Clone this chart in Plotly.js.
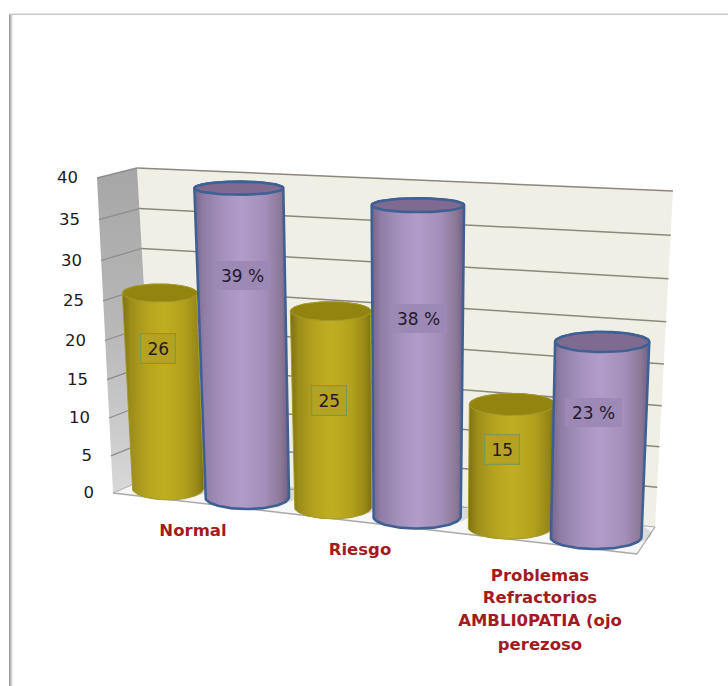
<!DOCTYPE html>
<html>
<head>
<meta charset="utf-8">
<script src="https://cdn.plot.ly/plotly-3.0.1.min.js"></script>
<style>html,body{margin:0;padding:0;background:#fff}#chart{width:728px;height:686px}</style>
</head>
<body>
<div id="chart"></div>
<script>
// Chart values
const categories = ['Normal', 'Riesgo', 'Problemas\nRefractorios\nAMBLI0PATIA (ojo\nperezoso'];
const yellowValues = [26, 25, 15];
const purpleValues = [39, 38, 23];
const yellowLabels = ['26', '25', '15'];
const purpleLabels = ['39 %', '38 %', '23 %'];
const tickLabels = [0, 5, 10, 15, 20, 25, 30, 35, 40];

// Box geometry of the 3-D plot, in page units
const BOX = {
  frontTopLeft: [97, 178], frontBottomLeft: [113, 493],
  backTopLeft: [137, 168], backBottomLeft: [155, 475],
  backTopRight: [673, 191], backBottomRight: [655, 527],
  frontBottomRight: [637, 554]
};
const yellowBaseX = [168, 333, 510];
const purpleBaseX = [247, 417, 596];
const categoryX = [[193], [360], [540, 540, 540, 540]];
const categoryY = [[532], [551], [577, 599, 622, 646]];
const yellowBoxes = [[157.5, 348], [328.5, 400], [501.5, 449]];
const purpleBoxes = [[242, 275], [418, 318], [593.5, 412]];

const YELLOW = {
  edge: [[0, '#7d700f'], [0.1, '#9c8d1a'], [0.3, '#b5a31f'], [0.5, '#c0ae22'], [0.75, '#b3a11d'], [0.92, '#978716'], [1, '#7b6e11']],
  top: '#93830f', rim: '#a39a2c', rimWidth: 1, k0: 7.5, kSlope: 0.002, kFrom: 168, r0: 36, rSlope: 0.0176
};
const PURPLE = {
  edge: [[0, '#75648c'], [0.1, '#8f7da6'], [0.3, '#a591bd'], [0.5, '#b29dca'], [0.75, '#a28eb8'], [0.92, '#8a7796'], [1, '#705f86']],
  top: '#7f6a92', rim: '#3f6093', rimWidth: 2.6, k0: 7.92, kSlope: 0.0016, kFrom: 247, r0: 42, rSlope: 0.01
};

const lerp = (a, b, t) => a + (b - a) * t;

// Walls bow slightly with perspective; v is a value on the 0-40 scale
function wallPoint(top, bottom, v) {
  const t = 1 - v / 40;
  return [lerp(top[0], bottom[0], t), lerp(top[1], bottom[1], t) + 20 * t * (1 - t)];
}

const traces = [];
function poly(pts, opts) {
  traces.push(Object.assign({
    type: 'scatter', mode: 'lines', x: pts.map(p => p[0]), y: pts.map(p => p[1]),
    fill: 'toself', line: { width: 0 }, hoverinfo: 'skip', showlegend: false
  }, opts));
}
function segment(a, b, color, width) {
  traces.push({
    type: 'scatter', mode: 'lines', x: [a[0], b[0]], y: [a[1], b[1]],
    line: { color, width }, hoverinfo: 'skip', showlegend: false
  });
}

// Walls and floor
poly([BOX.backTopLeft, BOX.backTopRight, BOX.backBottomRight, BOX.backBottomLeft, BOX.backTopLeft],
     { fillcolor: '#f0efe5' });
// The y axis runs downwards, so the gradient stops are listed bottom first
poly([BOX.frontTopLeft, BOX.backTopLeft, BOX.backBottomLeft, BOX.frontBottomLeft, BOX.frontTopLeft], {
  fillcolor: '#bbbbbb',
  fillgradient: { type: 'vertical', colorscale: [[0, '#d8d8d8'], [0.5, '#b8b8b8'], [1, '#a6a6a6']] }
});
poly([BOX.frontBottomLeft, BOX.backBottomLeft, BOX.backBottomRight, BOX.frontBottomRight, BOX.frontBottomLeft],
     { fillcolor: '#f7f7f7' });

// Gridlines on both walls
tickLabels.forEach(v => {
  const outer = wallPoint(BOX.frontTopLeft, BOX.frontBottomLeft, v);
  const inner = wallPoint(BOX.backTopLeft, BOX.backBottomLeft, v);
  const right = wallPoint(BOX.backTopRight, BOX.backBottomRight, v);
  segment(outer, inner, v === 0 ? '#b5b5b5' : '#8c8c8c', 1.3);
  if (v > 0) segment(inner, right, '#8b877c', 1.5);
});
segment(BOX.frontBottomLeft, BOX.frontBottomRight, '#a8a8a8', 1.5);
segment(BOX.frontBottomRight, BOX.backBottomRight, '#a8a8a8', 1.3);
segment(BOX.backBottomLeft, BOX.backBottomRight, '#b0aea6', 1.2);

// Ellipses flatten as they rise towards eye level
const ellipseRy = y => 12 - 5.5 * Math.pow(Math.max(0, 500 - y) / 313, 1.5);
const baseY = x => 488 + (x - 168) * 0.1145;

function ellipse(cx, cy, rx, ry, from, to) {
  const out = [];
  for (let i = 0; i <= 48; i++) {
    const a = from + (to - from) * i / 48;
    out.push([cx + rx * Math.cos(a), cy + ry * Math.sin(a)]);
  }
  return out;
}

function cylinder(baseX, value, style) {
  const by = baseY(baseX);
  const k = style.k0 + style.kSlope * (baseX - style.kFrom);
  const ty = by - value * k;
  const rb = style.r0 + style.rSlope * (baseX - style.kFrom);
  const rt = rb * (1 + 0.0015 * value);
  const tx = baseX + 0.00137 * (baseX - 400) * value;
  const ryT = ellipseRy(ty);
  const ryB = ellipseRy(by);
  // Soft contact shadow on the floor
  poly(ellipse(baseX + 7, by - 3, rb + 3, ryB + 1, 0, 2 * Math.PI), { fillcolor: 'rgba(120,120,120,0.22)' });
  // Body: left side, front of the base, right side, back of the top
  const body = [[tx - rt, ty]]
    .concat(ellipse(baseX, by, rb, ryB, Math.PI, 0))
    .concat(ellipse(tx, ty, rt, ryT, 0, -Math.PI));
  poly(body.concat([body[0]]), {
    fillcolor: style.edge[3][1],
    fillgradient: { type: 'horizontal', colorscale: style.edge },
    line: { color: style.rim, width: style.rimWidth }
  });
  // Open top
  poly(ellipse(tx, ty, rt, ryT, 0, 2 * Math.PI), {
    fillcolor: style.top, line: { color: style.rim, width: style.rimWidth }
  });
}
yellowValues.forEach((v, i) => {
  cylinder(yellowBaseX[i], v, YELLOW);
  cylinder(purpleBaseX[i], purpleValues[i], PURPLE);
});

// Value-axis numbers, following the slant of the side wall
const tickPoints = tickLabels.map(v => wallPoint(BOX.frontTopLeft, BOX.frontBottomLeft, v));
traces.push({
  type: 'scatter', mode: 'text', x: tickPoints.map(p => p[0] - 19), y: tickPoints.map(p => p[1] + 1),
  text: tickLabels.map(String), textposition: 'middle left',
  textfont: { family: 'DejaVu Sans', size: 16.5, color: '#1c1c1c' },
  hoverinfo: 'skip', showlegend: false
});

// Category names, one point per line
categories.forEach((name, i) => {
  traces.push({
    type: 'scatter', mode: 'text', x: categoryX[i], y: categoryY[i],
    text: name.split('\n'), textposition: 'middle center',
    textfont: { family: 'DejaVu Sans', size: 16.5, color: '#a31b22', weight: 700 },
    hoverinfo: 'skip', showlegend: false
  });
});

// Value tags on the cylinders
const tag = (pos, text, w, bg, border) => ({
  x: pos[0], y: pos[1], xref: 'x', yref: 'y', text, showarrow: false,
  width: w, height: 27, align: 'center', valign: 'middle', borderpad: 1,
  bgcolor: bg, bordercolor: border, borderwidth: border === 'rgba(0,0,0,0)' ? 0 : 1.2,
  font: { family: 'DejaVu Sans', size: 17, color: '#231a2b' }
});
const annotations = [];
yellowLabels.forEach((t, i) => annotations.push(tag(yellowBoxes[i], t, 32, '#b5a220', '#7d9a4c')));
purpleLabels.forEach((t, i) => annotations.push(tag(purpleBoxes[i], t, 55, '#9c89b6', 'rgba(0,0,0,0)')));

// Page frame: shaded left edge and a thin top rule
const frameShade = ['#9a9a9a', '#b8b8b8', '#d6d6d6', '#eeeeee'];
const shapes = frameShade.map((c, i) => ({
  type: 'rect', xref: 'x', yref: 'y', x0: 9 + i, x1: 10 + i, y0: 14, y1: 686,
  fillcolor: c, line: { width: 0 }
}));
shapes.push({ type: 'rect', xref: 'x', yref: 'y', x0: 9, x1: 728, y0: 13.5, y1: 15, fillcolor: '#c9c9c9', line: { width: 0 } });

const hidden = { visible: false, fixedrange: true };
Plotly.newPlot('chart', traces, {
  width: 728, height: 686,
  margin: { l: 0, r: 0, t: 0, b: 0 },
  paper_bgcolor: '#ffffff', plot_bgcolor: '#ffffff',
  xaxis: Object.assign({ range: [0, 728] }, hidden),
  yaxis: Object.assign({ range: [686, 0] }, hidden),
  showlegend: false, annotations, shapes
}, { displayModeBar: false, staticPlot: true });
</script>
</body>
</html>
